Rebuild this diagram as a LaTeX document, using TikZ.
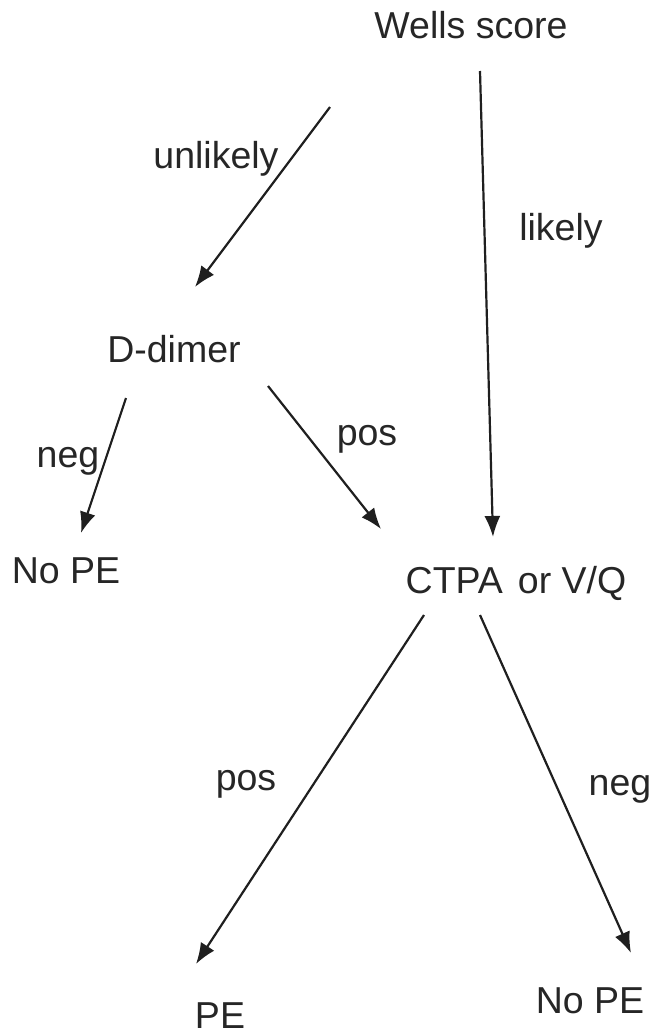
\documentclass[tikz,border=0pt]{standalone}
\usepackage{fontspec}
\setmainfont{Liberation Sans}
\usetikzlibrary{arrows.meta}
\begin{document}
\begin{tikzpicture}[x=1pt,y=-1pt,
  lbl/.style={inner sep=0pt,anchor=base,text=black!85,font=\fontsize{37.5}{42}\selectfont},
  arr/.style={draw=black!88,line width=2.2pt,-{Latex[length=21pt,width=16pt]}}]
\useasboundingbox[fill=white] (0,0) rectangle (654,1034);
% nodes
\node[lbl] (wells) at (471,38) {Wells score};
\node[lbl] (ddimer) at (174,362) {D-dimer};
\node[lbl] (nope1) at (66,583) {No PE};
\node[lbl] (ctpa) at (516,593) {CTPA\hspace{0.4em}or V/Q};
\node[lbl] (pe) at (220,1028) {PE};
\node[lbl] (nope2) at (590,1013) {No PE};
% edge labels
\node[lbl] (lunlikely) at (216,168) {unlikely};
\node[lbl] (llikely) at (561,240) {likely};
\node[lbl] (lneg1) at (68,467) {neg};
\node[lbl] (lpos1) at (367,445) {pos};
\node[lbl] (lpos2) at (246,790) {pos};
\node[lbl] (lneg2) at (620,795) {neg};
% connector ends
\coordinate (wellsL) at (330,107);
\coordinate (ddimerT) at (195,287);
\coordinate (wellsD) at (480,71);
\coordinate (ctpaT) at (493,537);
\coordinate (ddimerL) at (126,398);
\coordinate (nope1T) at (81,533);
\coordinate (ddimerR) at (268,386);
\coordinate (ctpaL) at (381,529);
\coordinate (ctpaBL) at (424,615);
\coordinate (peT) at (196,964);
\coordinate (ctpaBR) at (480,615);
\coordinate (nope2T) at (631,953);
% connectors
\draw[arr] (wellsL) -- (ddimerT);
\draw[arr] (wellsD) -- (ctpaT);
\draw[arr] (ddimerL) -- (nope1T);
\draw[arr] (ddimerR) -- (ctpaL);
\draw[arr] (ctpaBL) -- (peT);
\draw[arr] (ctpaBR) -- (nope2T);
\end{tikzpicture}
\end{document}
